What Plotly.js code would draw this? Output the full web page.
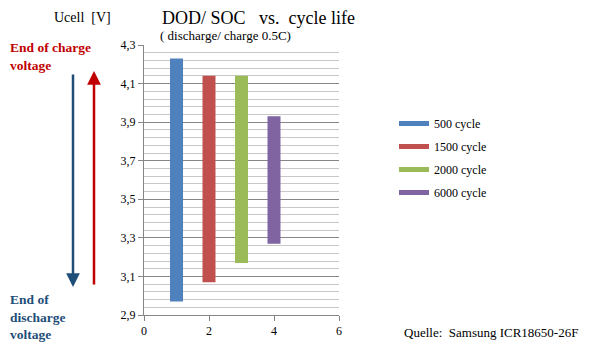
<!DOCTYPE html>
<html><head><meta charset="utf-8">
<script src="https://cdn.plot.ly/plotly-3.0.1.min.js"></script>
<style>html,body{margin:0;padding:0;background:#fff}#chart{width:603px;height:354px}</style>
</head><body><div id="chart"></div>
<script>
// Data
var seriesNames = ['500 cycle', '1500 cycle', '2000 cycle', '6000 cycle'];
var xPositions = [1, 2, 3, 4];
var lowVoltage = [2.97, 3.07, 3.17, 3.27];
var highVoltage = [4.23, 4.14, 4.14, 3.93];
var colors = ['#4F81BD', '#C0504D', '#9BBB59', '#8064A2'];
var yTickVals = [2.9, 3.1, 3.3, 3.5, 3.7, 3.9, 4.1, 4.3];
var xTickVals = [0, 2, 4, 6];

var serif = 'Liberation Serif';
var traces = [];
seriesNames.forEach(function(n, i){
  traces.push({
    type: 'scatter', mode: 'lines', name: n, showlegend: false, legendgroup: 'g' + i,
    x: [xPositions[i], xPositions[i]],
    y: [lowVoltage[i], highVoltage[i]],
    line: {color: colors[i], width: 13},
    hoverinfo: 'name+y'
  });
});
seriesNames.forEach(function(n, i){
  traces.push({
    type: 'scatter', mode: 'lines', name: n, showlegend: true, legendgroup: 'g' + i,
    x: [null], y: [null],
    line: {color: colors[i], width: 5}
  });
});

var L = 144, R = 339, T = 45, B = 315;
function px(x){ return (x - L) / (R - L); }
function py(y){ return (B - y) / (B - T); }

var layout = {
  width: 603, height: 354,
  margin: {l: L, r: 603 - R, t: T, b: 354 - B},
  paper_bgcolor: '#fff', plot_bgcolor: '#fff',
  separators: ',.',
  font: {family: serif, size: 12, color: '#000'},
  showlegend: true,
  legend: {x: px(394), y: py(109), xanchor: 'left', yanchor: 'top', tracegroupgap: 4,
           font: {family: serif, size: 12, color: '#000'}, bgcolor: 'rgba(0,0,0,0)'},
  xaxis: {range: [0, 6], tickvals: xTickVals, ticks: 'outside', ticklen: 5, tickcolor: '#868686',
          showgrid: false, zeroline: false, showline: true, linecolor: '#868686', linewidth: 1,
          tickfont: {family: serif, size: 12, color: '#000'}, fixedrange: true},
  yaxis: {range: [2.9, 4.3], tickvals: yTickVals, tickformat: '.1f', ticks: 'outside', ticklen: 5,
          tickcolor: '#868686', showgrid: true, gridcolor: '#868686', gridwidth: 1,
          zeroline: false, showline: true, linecolor: '#868686', linewidth: 1,
          minor: {tick0: 2.9, dtick: 0.04, showgrid: true, gridcolor: '#c8c8c8', gridwidth: 1, ticks: ''},
          tickfont: {family: serif, size: 12, color: '#000'}, fixedrange: true},
  annotations: [
    {xref: 'paper', yref: 'paper', x: px(160), y: py(18), xanchor: 'left', yanchor: 'middle',
     text: 'DOD/ SOC&nbsp;&nbsp; vs.&nbsp; cycle life', showarrow: false,
     font: {family: serif, size: 18, color: '#000'}},
    {xref: 'paper', yref: 'paper', x: px(158), y: py(35), xanchor: 'left', yanchor: 'middle',
     text: '( discharge/ charge 0.5C)', showarrow: false,
     font: {family: serif, size: 13, color: '#000'}},
    {xref: 'paper', yref: 'paper', x: px(52), y: py(18), xanchor: 'left', yanchor: 'middle',
     text: 'Ucell&nbsp; [V]', showarrow: false,
     font: {family: serif, size: 14, color: '#000'}},
    {xref: 'paper', yref: 'paper', x: px(8), y: py(56), xanchor: 'left', yanchor: 'middle',
     text: '<b>End of charge<br>voltage</b>', showarrow: false, align: 'left',
     font: {family: serif, size: 13.5, color: '#C00000'}},
    {xref: 'paper', yref: 'paper', x: px(8), y: py(317), xanchor: 'left', yanchor: 'middle',
     text: '<b>End of<br>discharge<br>voltage</b>', showarrow: false, align: 'left',
     font: {family: serif, size: 13.5, color: '#1F4E79'}},
    {xref: 'paper', yref: 'paper', x: px(402), y: py(332), xanchor: 'left', yanchor: 'middle',
     text: 'Quelle:&nbsp; Samsung ICR18650-26F', showarrow: false,
     font: {family: serif, size: 13, color: '#000'}},
    // arrows
    {xref: 'paper', yref: 'paper', x: px(73), y: py(287), ax: 0, ay: -214, text: '',
     showarrow: true, arrowhead: 2, arrowsize: 1.1, arrowwidth: 2.5, arrowcolor: '#1F4E79', standoff: 0},
    {xref: 'paper', yref: 'paper', x: px(94), y: py(71), ax: 0, ay: 215, text: '',
     showarrow: true, arrowhead: 2, arrowsize: 1.1, arrowwidth: 2.5, arrowcolor: '#C00000', standoff: 0}
  ]
};
Plotly.newPlot('chart', traces, layout, {displayModeBar: false, staticPlot: true});
</script></body></html>
